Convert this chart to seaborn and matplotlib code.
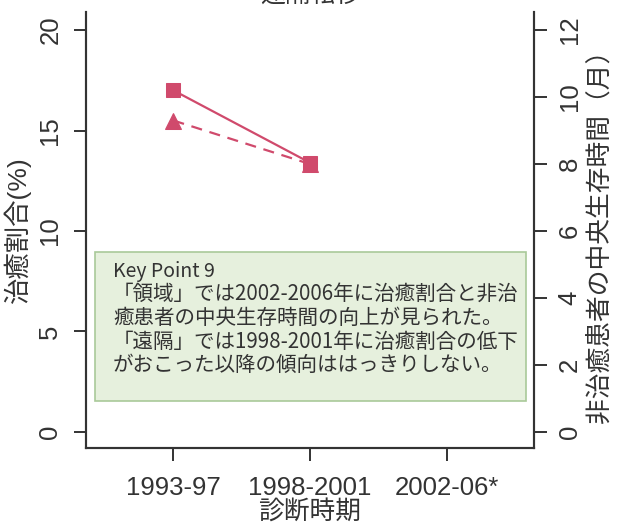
import matplotlib
matplotlib.use("Agg")
import matplotlib.pyplot as plt
import numpy as np
import pandas as pd
import seaborn as sns
from matplotlib.patches import Rectangle

# Data
periods = ["1993-97", "1998-2001", "2002-06*"]
cure_rate = [17.0, 13.4, np.nan]          # 治癒割合 (%), left axis
median_survival = [9.3, 8.0, np.nan]      # 非治癒患者の中央生存時間 (月), right axis
left_ticks = [0, 5, 10, 15, 20]
right_ticks = [0, 2, 4, 6, 8, 10, 12]

title = "遠隔転移"
note_head = "Key Point 9"
note_lines = [
    "「領域」では2002-2006年に治癒割合と非治",
    "癒患者の中央生存時間の向上が見られた。",
    "「遠隔」では1998-2001年に治癒割合の低下",
    "がおこった以降の傾向ははっきりしない。",
]

sns.set_style("ticks")
plt.rcParams["font.family"] = ["Liberation Sans", "Noto Sans CJK JP", "DejaVu Sans"]

df = pd.DataFrame({"pos": np.arange(len(periods)), "period": periods,
                   "cure": cure_rate, "surv": median_survival})

ink = "#333333"
red = "#d04a6c"

fig = plt.figure(figsize=(6.2, 5.23), dpi=100)
ax = fig.add_axes([0.1387, 0.1434, 0.7226, 0.8336])
ax2 = ax.twinx()

sns.lineplot(data=df, x="pos", y="cure", ax=ax, color=red, linewidth=1.6,
             marker="s", markersize=10, markeredgecolor=red)
sns.lineplot(data=df, x="pos", y="surv", ax=ax2, color=red, linewidth=1.6,
             marker="^", markersize=11, markeredgecolor=red, dashes=False)
ax2.lines[0].set_dashes((5, 3.5))

ax.set_xlim(-0.64, 2.64)
ax.set_ylim(-0.8, 20.9)
ax2.set_ylim(-0.48, 12.54)

ax.set_xticks(df["pos"])
ax.set_xticklabels(periods)
ax.set_yticks(left_ticks)
ax.set_yticklabels([str(t) for t in left_ticks], rotation=90, va="center")
ax2.set_yticks(right_ticks)
ax2.set_yticklabels([str(t) for t in right_ticks], rotation=90, va="center")

for a in (ax, ax2):
    a.tick_params(length=9, width=1.4, color=ink, labelcolor=ink, labelsize=18.5, pad=8)
    for side in ("left", "right", "bottom"):
        a.spines[side].set_color(ink)
        a.spines[side].set_linewidth(1.5)
    a.spines["top"].set_visible(False)
ax.tick_params(axis="x", pad=11)

ax.set_xlabel("診断時期", fontsize=18.5, color=ink, labelpad=0)
ax.set_ylabel("治癒割合(%)", fontsize=19, color=ink, labelpad=5)
ax2.set_ylabel("非治癒患者の中央生存時間（月）", fontsize=18.5, color=ink,
               rotation=90, labelpad=4)

# Key point box
box = Rectangle((0.02, 0.108), 0.962, 0.342, transform=ax.transAxes,
                facecolor="#e6f0dd", edgecolor="#a9c999", linewidth=1.2, zorder=0)
ax.add_patch(box)
ax.text(0.06, 0.404, note_head, transform=ax.transAxes, fontsize=14,
        color=ink, va="center", family=["Noto Sans CJK JP"])
for i, line in enumerate(note_lines):
    ax.text(0.06, 0.353 - i * 0.0545, line, transform=ax.transAxes, fontsize=14.8,
            color=ink, va="center", family=["Noto Sans CJK JP"])

fig.text(0.5, 1.01, title, ha="center", va="center", fontsize=18, color=ink,
         family=["Noto Sans CJK JP"])

fig.savefig("out.png", dpi=100)
